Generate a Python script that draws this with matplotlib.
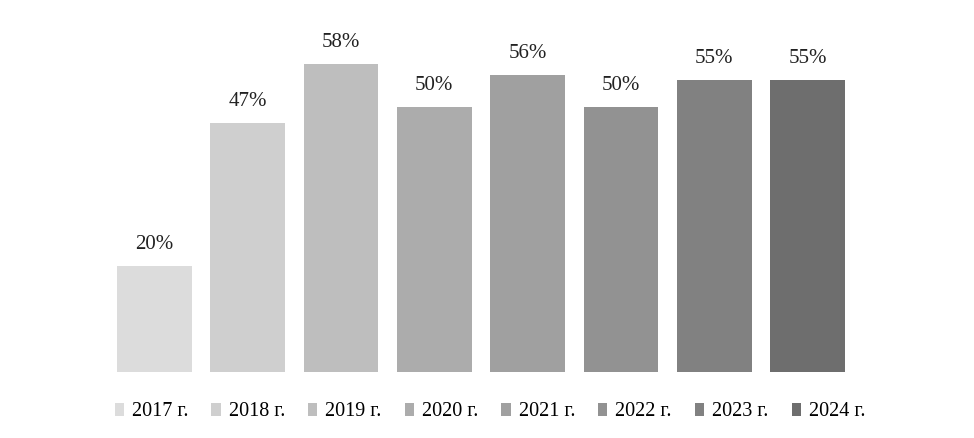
import matplotlib
matplotlib.use("Agg")
import matplotlib.pyplot as plt
from matplotlib.patches import Patch

years = ["2017 г.", "2018 г.", "2019 г.", "2020 г.", "2021 г.", "2022 г.", "2023 г.", "2024 г."]
values = [20, 47, 58, 50, 56, 50, 55, 55]
colors = ["#dcdcdc", "#cfcfcf", "#bebebe", "#acacac", "#a0a0a0", "#929292", "#818181", "#6e6e6e"]

plt.rcParams['font.family'] = ['Liberation Serif', 'DejaVu Serif']

fig = plt.figure(figsize=(9.74, 4.38), dpi=100)
W, H = 974, 438
ax = fig.add_axes([117 / W, (H - 372) / H, (845 - 117) / W, (372 - 27) / H])

bw = 0.8
for i, (y, v, c) in enumerate(zip(years, values, colors)):
    ax.bar(i, v, width=bw, color=c, label=y)
    ax.annotate(f"{v}%", (i, v), xytext=(0, 8.5), textcoords="offset points",
                ha="center", va="bottom", fontsize=15, color="#222222")

ax.set_xlim(-bw / 2, len(values) - 1 + bw / 2)
ax.set_ylim(0, 65)
ax.axis("off")

handles = [Patch(facecolor=c, edgecolor="none") for c in colors]
fig.legend(handles, years, loc="center", bbox_to_anchor=(490 / W, (H - 412) / H), ncol=8,
           frameon=False, fontsize=14.5, handlelength=0.45, handleheight=0.6,
           handletextpad=0.4, columnspacing=1.15, borderpad=0)

fig.savefig("out.png", dpi=100, facecolor="white")
